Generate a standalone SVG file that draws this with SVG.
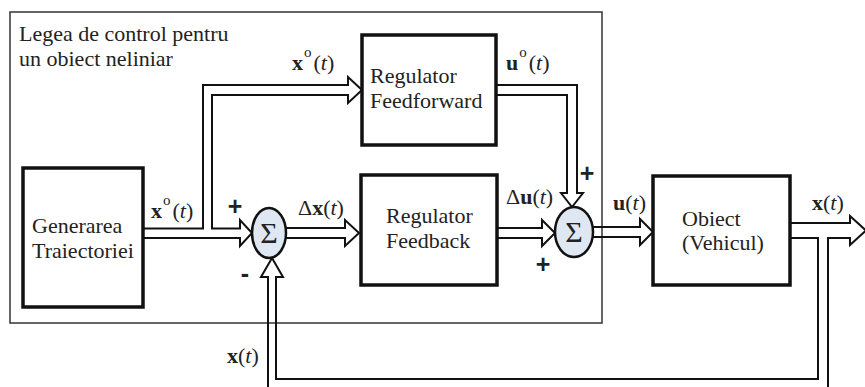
<svg xmlns="http://www.w3.org/2000/svg" width="865" height="387" viewBox="0 0 865 387">
<style>
.box{fill:#fff;stroke:#111;stroke-width:3.5}
.frame{fill:none;stroke:#333;stroke-width:1.5}
.pipe{fill:none;stroke:#111;stroke-width:2;stroke-linejoin:miter}
.sum{fill:#dfe7f3;stroke:#111;stroke-width:2.5}
.t{font-family:"Liberation Serif","Times New Roman",serif;font-size:22px;fill:#222}
.sig{font-family:"Liberation Serif","Times New Roman",serif;font-size:30px;fill:#222}
.sg{font-family:"Liberation Sans",Arial,sans-serif;font-size:25px;font-weight:bold;fill:#222}
.b{font-weight:bold}
.i{font-style:italic}
.sup{font-size:15px}
</style>
<rect width="865" height="387" fill="#fff"/>
<g id="frame">
<rect class="frame" x="10" y="12" width="592" height="311"/>
<text class="t" x="19" y="41">Legea de control pentru</text>
<text class="t" x="19" y="66">un obiect neliniar</text>
</g>
<g id="connectors">
<path class="pipe" d="M143,228.5 H203 V85 H348 V77 L362,90 L348,103 V95 H212 V228.5 H240 V220 L252,233 L240,246 V238 H143"/>
<path class="pipe" d="M285,228 H345 V220 L359,233 L345,246 V238 H285"/>
<path class="pipe" d="M496,85 H577 V193 H583 L572,207 L561,193 H567 V95 H496"/>
<path class="pipe" d="M497,228 H542 V220 L555,233 L542,246 V238 H497"/>
<path class="pipe" d="M592,227 H640 V219 L653,232 L640,245 V237 H592"/>
<path class="pipe" d="M790,238 H818 V379 H276 V277 H283 L272,258 L261,277 H268 V400 H828 V238 H850 V245 L866,230.5 L850,216 V223 H790"/>
</g>
<g id="generarea">
<rect class="box" x="23" y="168" width="120" height="139"/>
<text class="t" x="32" y="233">Generarea</text>
<text class="t" x="32" y="258">Traiectoriei</text>
</g>
<g id="feedforward">
<rect class="box" x="362" y="35" width="134" height="110"/>
<text class="t" x="370" y="83">Regulator</text>
<text class="t" x="370" y="108">Feedforward</text>
</g>
<g id="feedback">
<rect class="box" x="361" y="175" width="136" height="110"/>
<text class="t" x="386" y="223">Regulator</text>
<text class="t" x="386" y="248">Feedback</text>
</g>
<g id="obiect">
<rect class="box" x="653" y="176" width="137" height="109"/>
<text class="t" x="682" y="226">Obiect</text>
<text class="t" x="682" y="250">(Vehicul)</text>
</g>
<g id="sum1">
<ellipse class="sum" cx="269" cy="233" rx="17" ry="25"/>
<text class="sig" x="269" y="243" text-anchor="middle">Σ</text>
</g>
<g id="sum2">
<ellipse class="sum" cx="574" cy="232" rx="19" ry="25"/>
<text class="sig" x="574" y="242" text-anchor="middle">Σ</text>
</g>
<g id="labels">
<text class="t" x="292" y="70"><tspan class="b">x</tspan><tspan class="sup" dx="1" dy="-13">o</tspan><tspan dx="2" dy="13">(</tspan><tspan class="i">t</tspan>)</text>
<text class="t" x="506" y="70"><tspan class="b">u</tspan><tspan class="sup" dx="1" dy="-13">o</tspan><tspan dx="2" dy="13">(</tspan><tspan class="i">t</tspan>)</text>
<text class="t" x="151" y="218"><tspan class="b">x</tspan><tspan class="sup" dx="1" dy="-13">o</tspan><tspan dx="2" dy="13">(</tspan><tspan class="i">t</tspan>)</text>
<text class="t" x="298" y="215">Δ<tspan class="b">x</tspan>(<tspan class="i">t</tspan>)</text>
<text class="t" x="506" y="204">Δ<tspan class="b">u</tspan>(<tspan class="i">t</tspan>)</text>
<text class="t" x="613" y="210"><tspan class="b">u</tspan>(<tspan class="i">t</tspan>)</text>
<text class="t" x="812" y="210"><tspan class="b">x</tspan>(<tspan class="i">t</tspan>)</text>
<text class="t" x="227" y="363"><tspan class="b">x</tspan>(<tspan class="i">t</tspan>)</text>
<text class="sg" x="235" y="215" text-anchor="middle">+</text>
<text class="sg" x="245" y="282" text-anchor="middle">-</text>
<text class="sg" x="587" y="182" text-anchor="middle">+</text>
<text class="sg" x="543" y="273" text-anchor="middle">+</text>
</g>
</svg>
